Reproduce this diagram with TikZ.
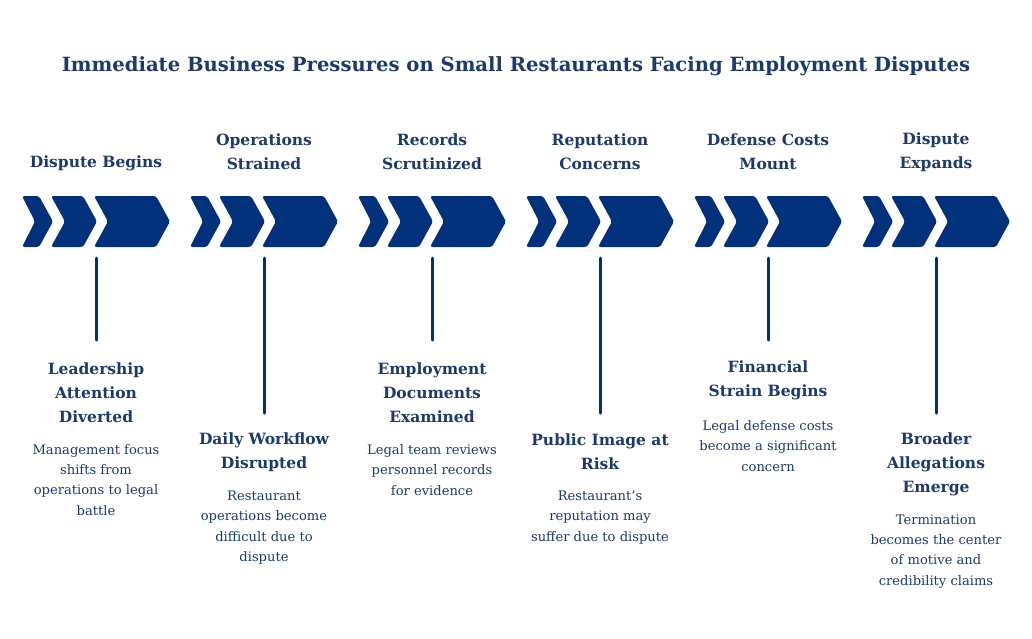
\documentclass[tikz,border=0pt]{standalone}
\usepackage{fontspec}
\setmainfont{DejaVu Serif}
\definecolor{navy}{HTML}{1C3A6E}
\definecolor{chev}{HTML}{01317A}
\begin{document}
\begin{tikzpicture}[x=1pt,y=-1pt,
  chevshape/.style={fill=chev, rounded corners=2.5pt},
  headtext/.style={text=navy, font=\fontsize{15.5}{24}\selectfont\bfseries, align=center, inner sep=0pt},
  ttltext/.style={text=navy, font=\fontsize{15.5}{24}\selectfont\bfseries, align=center, inner sep=0pt},
  desctext/.style={text=navy, font=\fontsize{13.1}{20.2}\selectfont, align=center, inner sep=0pt},
  stem/.style={draw=chev, line width=3pt, line cap=round}]
\useasboundingbox[fill=white] (0,0) rectangle (1032,638);
\node[text=navy, font=\fontsize{19.6}{22}\selectfont\bfseries, inner sep=0pt] (title) at (516,66)
  {Immediate Business Pressures on Small Restaurants Facing Employment Disputes};
% chevron groups
\foreach \g in {22,190,358,526,694,862}{
  \fill[chevshape] (\g,196) -- (\g+17,196) -- (\g+31,221.5) -- (\g+17,247) -- (\g,247) -- (\g+13,221.5) -- cycle;
  \fill[chevshape] (\g+29,196) -- (\g+61,196) -- (\g+75,221.5) -- (\g+61,247) -- (\g+29,247) -- (\g+43,221.5) -- cycle;
  \fill[chevshape] (\g+72,196) -- (\g+134,196) -- (\g+148,221.5) -- (\g+134,247) -- (\g+72,247) -- (\g+86,221.5) -- cycle;
}
% column 1
\node[headtext] (h1) at (96,163) {Dispute Begins};
\coordinate (s1a) at (96,258); \coordinate (s1b) at (96,340);
\draw[stem] (s1a) -- (s1b);
\node[ttltext] (t1) at (96,393) {Leadership\\Attention\\Diverted};
\node[desctext] (d1) at (96,480) {Management focus\\shifts from\\operations to legal\\battle};
% column 2
\node[headtext] (h2) at (264,152) {Operations\\Strained};
\coordinate (s2a) at (264,258); \coordinate (s2b) at (264,413);
\draw[stem] (s2a) -- (s2b);
\node[ttltext] (t2) at (264,452) {Daily Workflow\\Disrupted};
\node[desctext] (d2) at (264,527.5) {Restaurant\\operations become\\difficult due to\\dispute};
% column 3
\node[headtext] (h3) at (432,152) {Records\\Scrutinized};
\coordinate (s3a) at (432,258); \coordinate (s3b) at (432,340);
\draw[stem] (s3a) -- (s3b);
\node[ttltext] (t3) at (432,393) {Employment\\Documents\\Examined};
\node[desctext] (d3) at (432,470) {Legal team reviews\\personnel records\\for evidence};
% column 4
\node[headtext] (h4) at (600,152) {Reputation\\Concerns};
\coordinate (s4a) at (600,258); \coordinate (s4b) at (600,413);
\draw[stem] (s4a) -- (s4b);
\node[ttltext] (t4) at (600,452) {Public Image at\\Risk};
\node[desctext] (d4) at (600,517.5) {Restaurant's\\reputation may\\suffer due to dispute};
% column 5
\node[headtext] (h5) at (768,152) {Defense Costs\\Mount};
\coordinate (s5a) at (768,258); \coordinate (s5b) at (768,340);
\draw[stem] (s5a) -- (s5b);
\node[ttltext] (t5) at (768,380.5) {Financial\\Strain Begins};
\node[desctext] (d5) at (768,446) {Legal defense costs\\become a significant\\concern};
% column 6
\node[headtext] (h6) at (936,152) {Dispute\\Expands};
\coordinate (s6a) at (936,258); \coordinate (s6b) at (936,413);
\draw[stem] (s6a) -- (s6b);
\node[ttltext] (t6) at (936,464) {Broader\\Allegations\\Emerge};
\node[desctext] (d6) at (936,551.5) {Termination\\becomes the center\\of motive and\\credibility claims};
\end{tikzpicture}
\end{document}
